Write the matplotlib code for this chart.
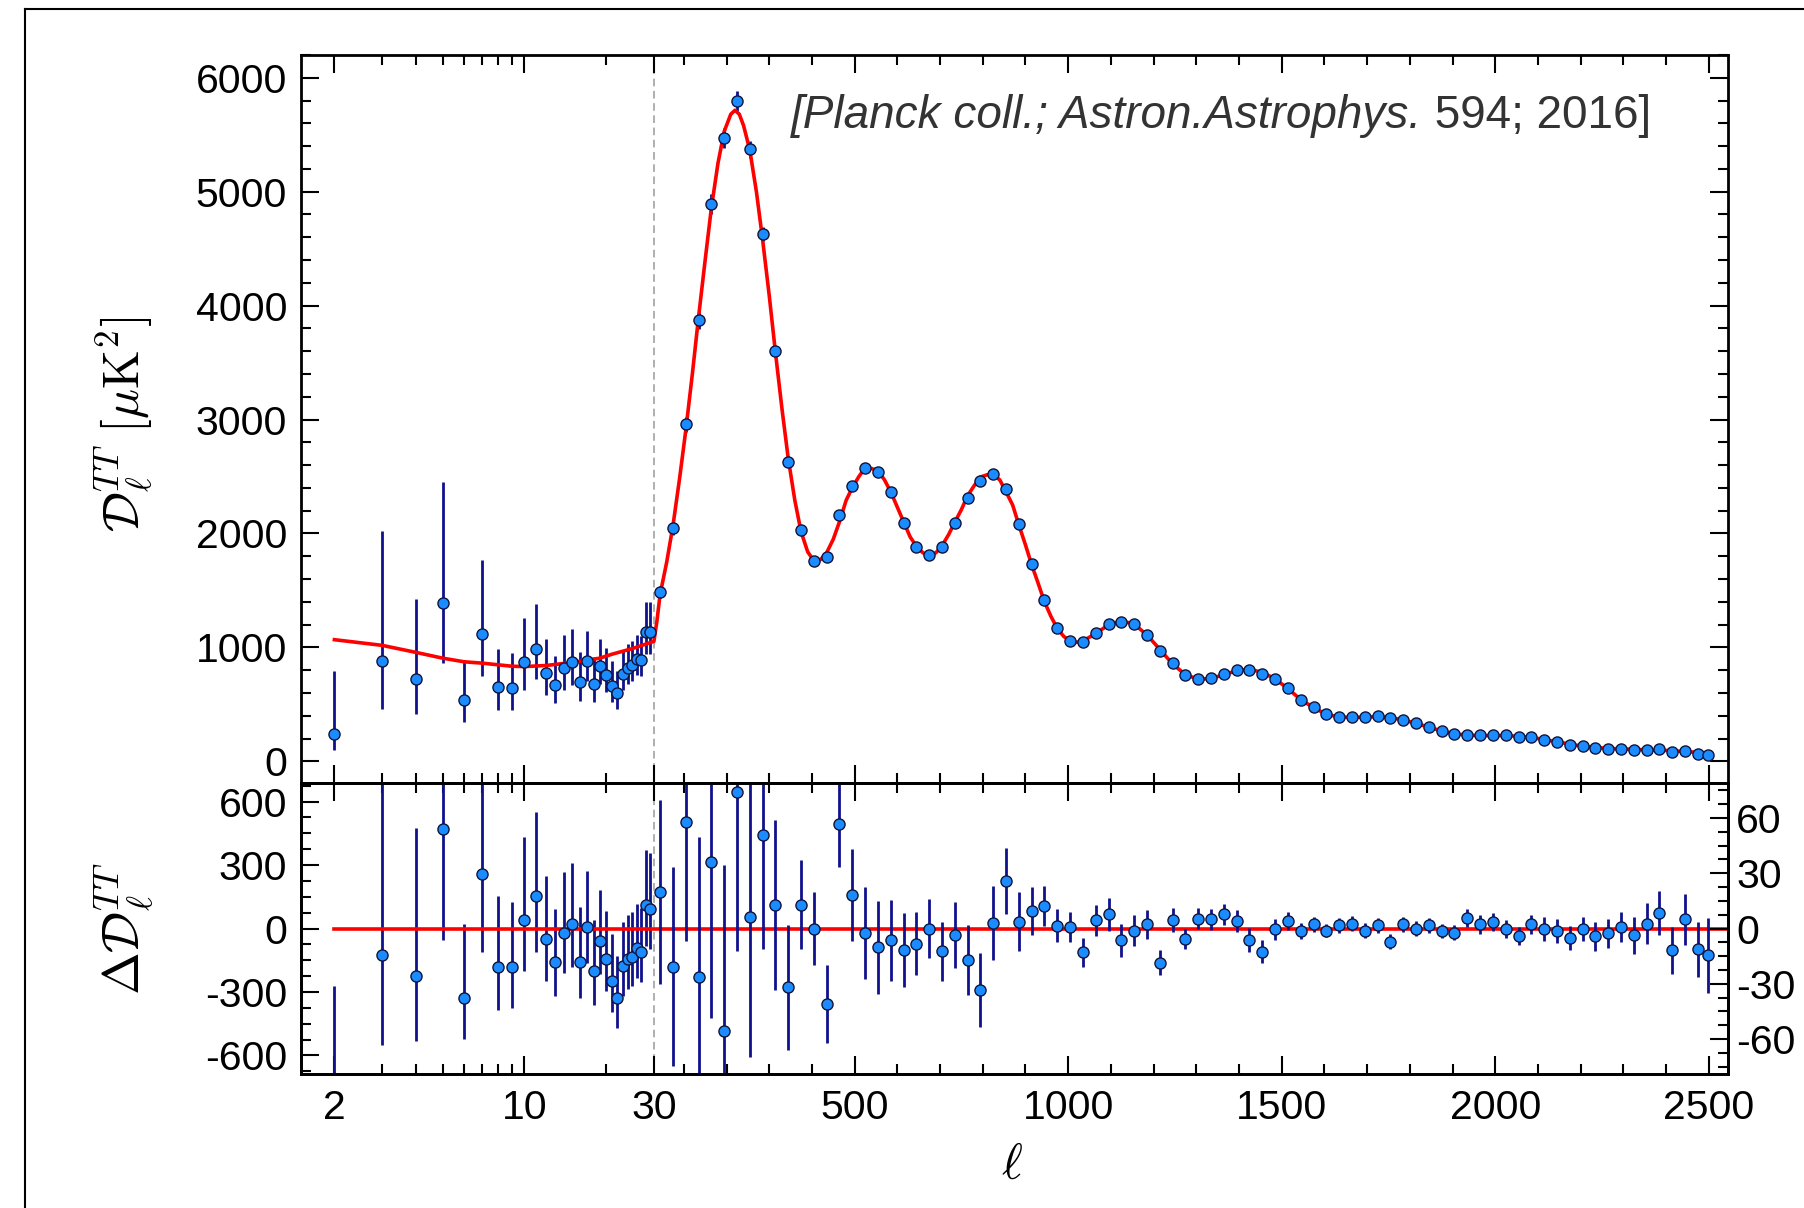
import numpy as np
import matplotlib
matplotlib.use('Agg')
import matplotlib.pyplot as plt
from matplotlib.ticker import FixedLocator, NullFormatter
from matplotlib.lines import Line2D

plt.rcParams['font.family'] = ['Liberation Sans', 'DejaVu Sans']
plt.rcParams['mathtext.fontset'] = 'cm'
plt.rcParams['axes.unicode_minus'] = False

# low-ell data (2 <= l <= 29)
ell_low = np.arange(2, 30)
D_low = [236, 883, 724, 1388, 538, 1121, 650, 641, 868, 982, 779, 673, 818, 874,
         700, 877, 677, 838, 762, 665, 597, 768, 818, 845, 898, 891, 1136, 1136]
D_low_up = [561, 1141, 697, 1068, 353, 644, 338, 309, 391, 401, 298, 248, 288, 291,
            260, 265, 240, 240, 230, 220, 200, 210, 210, 210, 210, 210, 261, 261]
D_low_dn = [133, 427, 309, 526, 191, 371, 200, 191, 241, 261, 196, 164, 191, 203,
            170, 170, 160, 160, 150, 145, 140, 140, 140, 140, 140, 140, 192, 192]
res_low = [-832, -126, -223, 471, -330, 259, -184, -184, 42, 152, -52, -157, -20, 20,
           -157, 6, -201, -57, -145, -248, -330, -178, -145, -134, -94, -113, 110, 94]

# high-ell binned data (bins of 30)
ell_hi = np.append(np.arange(44.5, 2480, 30), 2497)
D_hi = [1485, 2045, 2960, 3872, 4892, 5472, 5796, 5372, 4631, 3604,
        2627, 2030, 1760, 1790, 2160, 2421, 2574, 2542, 2360, 2092,
        1880, 1809, 1880, 2095, 2315, 2462, 2521, 2392, 2080, 1736,
        1412, 1168, 1059, 1044, 1127, 1206, 1227, 1203, 1112, 965,
        859, 756, 726, 733, 768, 800, 803, 768, 724, 642,
        541, 474, 412, 391, 388, 388, 394, 377, 365, 334,
        302, 265, 241, 235, 229, 229, 227, 215, 212, 191,
        170, 147, 132, 117, 112, 109, 103, 103, 106, 82,
        91, 68, 59]
err_hi = [50, 54, 65, 76, 85, 90, 86, 76, 62, 46,
          34, 24, 20, 21, 23, 25, 25, 25, 22, 20,
          17, 16, 16, 18, 19, 20, 20, 18, 16, 13,
          11, 9, 8, 8, 8.5, 9, 9, 8.4, 8, 7,
          6.4, 5.5, 5.7, 5.7, 5.7, 6, 6.6, 6, 5.6, 4.8,
          4.5, 4.1, 3.6, 4, 4, 4, 4, 4, 4, 4,
          4, 4, 4, 5, 5, 5, 5, 5, 5, 6.5,
          6.5, 6.5, 6.5, 8, 8, 8, 10, 11, 12, 12.7,
          13.9, 15, 20.3]
res_hi = [19.6, -20.8, 58, -26.4, 36.2, -55.6, 74, 6.3, 51, 12.7,
          -32, 13, 0, -41, 56.5, 18, -2.4, -10.3, -6.3, -11.8,
          -8.2, 0, -12.3, -3.6, -17.2, -33.5, 3.1, 25.7, 3.6, 9.6,
          12.1, 1.4, 0.9, -13, 4.5, 7.8, -6.3, -1.3, 2.2, -18.5,
          4.5, -5.6, 5.4, 5.1, 7.8, 4.2, -6.3, -12.5, -0.5, 4.2,
          -1.4, 2.2, -1.1, 1.8, 2.7, -1.1, 1.8, -7.1, 2.2, 0,
          1.8, -1.3, -2.2, 5.8, 2.2, 3.6, -0.4, -4.2, 2.2, -0.5,
          -1.3, -5.1, -0.5, -4.2, -2.7, 0.9, -3.6, 2.7, 8.2, -11.8,
          5.1, -11.2, -14.5]

# best-fit model curve up to l=1050, beyond that model = data - residual
ell_model = [2, 3, 4, 5, 6, 7, 9, 10, 12, 15, 19, 21, 25, 30, 37, 44.5, 60, 74.5, 90,
             104.5, 120, 134.5, 150, 164.5, 180, 194.5, 210, 220, 230, 240, 254.5,
             270, 284.5, 300, 314.5, 330, 344.5, 360, 374.5, 390, 404.5, 420, 434.5,
             450, 464.5, 480, 494.5, 510, 524.5, 540, 554.5, 570, 584.5, 600, 614.5,
             630, 644.5, 660, 674.5, 690, 704.5, 720, 734.5, 750, 764.5, 780, 794.5,
             810, 824.5, 840, 854.5, 870, 884.5, 900, 914.5, 930, 944.5, 960, 974.5,
             990, 1004.5, 1020, 1034.5, 1050]
D_model = [1068, 1018, 956, 906, 874, 862, 835, 832, 841, 868, 906, 940, 990, 1053,
           1230, 1465, 1750, 2066, 2480, 2902, 3400, 3898, 4400, 4856, 5250, 5528,
           5680, 5715, 5680, 5580, 5366, 5000, 4580, 4090, 3591, 3090, 2659, 2290,
           2017, 1840, 1760, 1770, 1831, 1950, 2103, 2290, 2403, 2500, 2576, 2570,
           2552, 2470, 2366, 2230, 2104, 1970, 1888, 1830, 1809, 1830, 1892, 1990,
           2099, 2210, 2332, 2420, 2496, 2515, 2518, 2470, 2366, 2250, 2076, 1900,
           1726, 1560, 1400, 1270, 1167, 1095, 1058, 1045, 1057, 1090]

x_major = [2, 10, 30, 500, 1000, 1500, 2000, 2500]
x_minor = [3, 4, 5, 6, 7, 8, 9, 20] + list(range(100, 500, 100)) + \
    [v for v in range(600, 2500, 100) if v % 500 != 0]

# hybrid axis: log below l=30, linear above
K = 0.001572
L30 = np.log10(30)


def fwd(l):
    l = np.asarray(l, dtype=float)
    return np.where(l < 30, np.log10(np.clip(l, 1e-3, None)), L30 + (l - 30) * K)


def inv(x):
    x = np.asarray(x, dtype=float)
    return np.where(x < L30, 10 ** np.clip(x, -5, L30), 30 + (x - L30) / K)


W, H = 1804, 1208
fig = plt.figure(figsize=(W / 100, H / 100), dpi=100)
left, right = 301 / W, 1728 / W
ax1 = fig.add_axes([left, 1 - 783 / H, right - left, (783 - 55) / H])
ax2 = fig.add_axes([left, 1 - 1074 / H, right - left, (1074 - 783) / H])
ax2r = ax2.twinx()

blue = '#1a8cff'
navy = '#10128c'
edge = '#10143a'
fs = 29.5
ms = 8

for ax in (ax1, ax2):
    ax.set_xscale('function', functions=(fwd, inv))
    ax.set_xlim(1.507, 2545)
    ax.xaxis.set_major_locator(FixedLocator(x_major))
    ax.xaxis.set_minor_locator(FixedLocator(x_minor))
    ax.xaxis.set_minor_formatter(NullFormatter())
    ax.axvline(30, color='#9a9a9a', lw=1.1, ls=(0, (5, 3)), zorder=1)
    for s in ax.spines.values():
        s.set_linewidth(2.0)
    ax.tick_params(which='both', direction='in', top=True, width=1.5, labelsize=fs)
    ax.tick_params(which='major', length=13)
    ax.tick_params(which='minor', length=7)
    ax.tick_params(axis='y', pad=10)

# top panel
ell_m = np.concatenate([ell_model, ell_hi[ell_hi > 1050]])
D_m = np.concatenate([D_model, (np.array(D_hi) - np.array(res_hi))[ell_hi > 1050]])
ax1.errorbar(ell_low, D_low, yerr=[D_low_dn, D_low_up], fmt='none', ecolor=navy,
             elinewidth=2.0, capsize=0, zorder=2)
ax1.errorbar(ell_hi, D_hi, yerr=err_hi, fmt='none', ecolor=navy,
             elinewidth=2.0, capsize=0, zorder=2)
ax1.plot(ell_m, D_m, color='red', lw=2.6, zorder=3)
ax1.plot(ell_low, D_low, 'o', ms=ms, mfc=blue, mec=edge, mew=1.0, zorder=4)
ax1.plot(ell_hi, D_hi, 'o', ms=ms, mfc=blue, mec=edge, mew=1.0, zorder=4)
ax1.set_ylim(-190, 6200)
ax1.yaxis.set_major_locator(FixedLocator(range(0, 6001, 1000)))
ax1.yaxis.set_minor_locator(FixedLocator(range(-200, 6201, 200)))
ax1.tick_params(which='both', right=True, labelbottom=False)

# bottom panel: left scale for l<30, right scale for l>=30
ax2.plot([2, 2545], [0, 0], color='red', lw=2.6, zorder=3)
ax2.errorbar(ell_low, res_low, yerr=[D_low_dn, D_low_up], fmt='none', ecolor=navy,
             elinewidth=2.0, capsize=0, zorder=2)
ax2.plot(ell_low, res_low, 'o', ms=ms, mfc=blue, mec=edge, mew=1.0, zorder=4)
ax2.set_ylim(-688, 688)
ax2.yaxis.set_major_locator(FixedLocator([-600, -300, 0, 300, 600]))
ax2.yaxis.set_minor_locator(FixedLocator(np.arange(-675, 676, 75)))
ax2.tick_params(which='both', right=False)
ax2.tick_params(axis='x', pad=11)
ax2.set_xticklabels([str(v) for v in x_major])

ax2r.errorbar(ell_hi, res_hi, yerr=err_hi, fmt='none', ecolor=navy,
              elinewidth=2.0, capsize=0, zorder=2)
ax2r.plot(ell_hi, res_hi, 'o', ms=ms, mfc=blue, mec=edge, mew=1.0, zorder=4)
ax2r.set_ylim(-79, 79)
ax2r.yaxis.set_major_locator(FixedLocator([-60, -30, 0, 30, 60]))
ax2r.yaxis.set_minor_locator(FixedLocator(np.arange(-75, 76, 7.5)))
ax2r.tick_params(which='both', direction='in', width=1.5, labelsize=fs, pad=6)
ax2r.tick_params(which='major', length=13)
ax2r.tick_params(which='minor', length=7)
for s in ax2r.spines.values():
    s.set_linewidth(2.0)

# labels
fig.text(124 / W, 1 - 424 / H, r'$\mathcal{D}_\ell^{TT}\ [\mu\mathrm{K}^2]$', rotation=90,
         ha='center', va='center', fontsize=36)
fig.text(125 / W, 1 - 928 / H, r'$\Delta\mathcal{D}_\ell^{TT}$', rotation=90,
         ha='center', va='center', fontsize=37)
fig.text(1012 / W, 1 - 1166 / H, r'$\ell$', ha='center', va='center', fontsize=36)

t1 = fig.text(791 / W, 1 - 116 / H, '[Planck coll.; Astron.Astrophys.', style='italic',
              color='#333333', fontsize=33, va='center', ha='left')
ax1.annotate(' 594; 2016]', xy=(1, 0.5), xycoords=t1, va='center', ha='left',
             color='#333333', fontsize=33)

# frame of the surrounding page
fig.add_artist(Line2D([25 / W, 25 / W], [0, 1 - 9 / H], color='black', lw=1.5))
fig.add_artist(Line2D([25 / W, 1], [1 - 9 / H, 1 - 9 / H], color='black', lw=1.5))

fig.savefig('out.png', dpi=100)
